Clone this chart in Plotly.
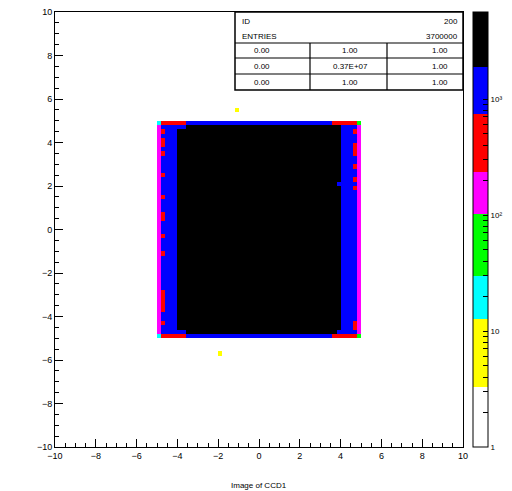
import numpy as np
import plotly.graph_objects as go

# ---------------- data ----------------
BIN_LO = -10.0
BIN_W = 0.2
NBINS = 100

# count levels seen in the image
BLACK, BLUE, RED, MAGENTA, GREEN, CYAN, YELLOW = 3000, 1200, 400, 150, 50, 20, 5

# square covers x,y in [-5, 5): 50 columns, lower edges -5.0 ... 4.8
SQUARE_X0 = -5.0
SQUARE_Y0 = -5.0
COLUMN_COUNTS = [MAGENTA] + [BLUE] * 4 + [BLACK] * 40 + [BLUE] * 4 + [MAGENTA]
TOP_ROW = [CYAN] + [RED] * 6 + [BLUE] * 36 + [RED] * 6 + [GREEN]
SECOND_TOP_ROW = [MAGENTA] + [BLUE] * 6 + [BLACK] * 38 + [BLUE] * 4 + [MAGENTA]
SECOND_BOTTOM_ROW = [MAGENTA] + [BLUE] * 6 + [BLACK] * 37 + [BLUE] * 5 + [MAGENTA]
BOTTOM_ROW = [CYAN] + [RED] * 6 + [BLUE] * 36 + [RED] * 6 + [GREEN]

LEFT_RED_X = -4.8
LEFT_RED_Y = [4.4, 4.0, 3.8, 3.4, 2.4, 1.4, 0.6, 0.4, -0.4, -1.2,
              -3.0, -3.2, -3.4, -3.6, -3.8, -4.4]
RIGHT_RED_X = 4.6
RIGHT_RED_Y = [4.4, 3.8, 3.6, 3.4, 2.8, 2.2, 1.8, -4.4, -4.6]
EXTRA_CELLS = [(3.8, 2.0, BLUE), (-1.2, 5.4, YELLOW), (-2.0, -5.8, YELLOW)]

STATS_HEAD = [("ID", "200"), ("ENTRIES", "3700000")]
STATS_TABLE = [["0.00", "1.00", "1.00"],
               ["0.00", "0.37E+07", "1.00"],
               ["0.00", "1.00", "1.00"]]

Z_MAX_LOG = 3.75
COLOR_BOUNDS = [0.517, 1.10, 1.47, 2.01, 2.37, 2.87, 3.28]
COLORS = ["#ffffff", "#ffff00", "#00ffff", "#00ff00", "#ff00ff",
          "#ff0000", "#0000ff", "#000000"]

# ---------------- build histogram ----------------
def idx(v):
    return int(round((v - BIN_LO) / BIN_W))

counts = np.zeros((NBINS, NBINS))
c0 = idx(SQUARE_X0)
r0 = idx(SQUARE_Y0)
n = len(COLUMN_COUNTS)
for r in range(n):
    counts[r0 + r, c0:c0 + n] = COLUMN_COUNTS
counts[r0 + n - 1, c0:c0 + n] = TOP_ROW
counts[r0 + n - 2, c0:c0 + n] = SECOND_TOP_ROW
counts[r0 + 1, c0:c0 + n] = SECOND_BOTTOM_ROW
counts[r0, c0:c0 + n] = BOTTOM_ROW
for y in LEFT_RED_Y:
    counts[idx(y), idx(LEFT_RED_X)] = RED
for y in RIGHT_RED_Y:
    counts[idx(y), idx(RIGHT_RED_X)] = RED
for x, y, v in EXTRA_CELLS:
    counts[idx(y), idx(x)] = v

z = np.where(counts > 0, np.log10(np.where(counts > 0, counts, 1)), np.nan)
centers = BIN_LO + BIN_W * (np.arange(NBINS) + 0.5)

# discrete colorscale
edges = [0.0] + [b / Z_MAX_LOG for b in COLOR_BOUNDS] + [1.0]
cscale = []
for i, col in enumerate(COLORS):
    cscale.append([edges[i], col])
    cscale.append([edges[i + 1], col])

tickvals, ticktext = [], []
labels = {0: "1", 1: "10", 2: "10²", 3: "10³"}
for d in range(4):
    for m in range(1, 10):
        v = np.log10(m * 10 ** d)
        if v <= Z_MAX_LOG:
            tickvals.append(v)
            ticktext.append(labels[d] if m == 1 else "")

fig = go.Figure(go.Heatmap(
    x=centers, y=centers, z=z, zmin=0, zmax=Z_MAX_LOG,
    colorscale=cscale, hoverongaps=False,
    colorbar=dict(
        x=(473 - 55) / 408, xanchor="left", xref="paper", xpad=0, ypad=0,
        y=0.5, yanchor="middle", len=435, lenmode="pixels",
        thickness=15, thicknessmode="pixels",
        outlinewidth=1, outlinecolor="black",
        ticks="inside", ticklen=5, tickcolor="black",
        tickvals=tickvals, ticktext=ticktext,
        tickfont=dict(family="Liberation Sans", size=8, color="black"),
    ),
))

axis_common = dict(
    range=[-10, 10], showline=True, linecolor="black", linewidth=1, mirror=True,
    ticks="inside", ticklen=8, tickcolor="black", dtick=2, tick0=0,
    minor=dict(dtick=0.5, ticklen=4, ticks="inside", tickcolor="black"),
    showgrid=False, zeroline=False,
    tickfont=dict(family="Liberation Sans", size=9, color="black"),
)
fig.update_xaxes(**axis_common)
fig.update_yaxes(**axis_common)

# stats box
W, H = 408.0, 435.0
def px(xp):
    return (xp - 55) / W
def py(yp):
    return (447 - yp) / H

shapes = [
    dict(type="rect", xref="paper", yref="paper", x0=px(235), x1=1.0, y0=py(90), y1=1.0,
         line=dict(color="black", width=1.5), fillcolor="white", layer="above"),
]
for yl in [43, 58, 74]:
    shapes.append(dict(type="line", xref="paper", yref="paper", x0=px(235), x1=1.0,
                       y0=py(yl), y1=py(yl), line=dict(color="black", width=1.2)))
for xl in [310, 387]:
    shapes.append(dict(type="line", xref="paper", yref="paper", x0=px(xl), x1=px(xl),
                       y0=py(90), y1=py(43), line=dict(color="black", width=1.2)))

annots = []
sfont = dict(family="Liberation Sans", size=8, color="black")
for (k, v), yy in zip(STATS_HEAD, [22, 36]):
    annots.append(dict(xref="paper", yref="paper", x=px(240), y=py(yy), text=k,
                       showarrow=False, xanchor="left", yanchor="middle", font=sfont))
    annots.append(dict(xref="paper", yref="paper", x=px(460), y=py(yy), text=v,
                       showarrow=False, xanchor="right", yanchor="middle", font=sfont))
for row, yy in zip(STATS_TABLE, [50.5, 66, 82]):
    for val, xx in zip(row, [262, 350, 440]):
        annots.append(dict(xref="paper", yref="paper", x=px(xx), y=py(yy), text=val,
                           showarrow=False, xanchor="center", yanchor="middle", font=sfont))
annots.append(dict(xref="paper", yref="paper", x=0.5, y=py(485), text="Image of CCD1",
                   showarrow=False, xanchor="center", yanchor="middle",
                   font=dict(family="Liberation Sans", size=8, color="black")))

fig.update_layout(
    width=512, height=491,
    margin=dict(l=55, r=49, t=12, b=44, autoexpand=False),
    paper_bgcolor="white", plot_bgcolor="white",
    shapes=shapes, annotations=annots, showlegend=False,
)

fig.write_html("out.html")
